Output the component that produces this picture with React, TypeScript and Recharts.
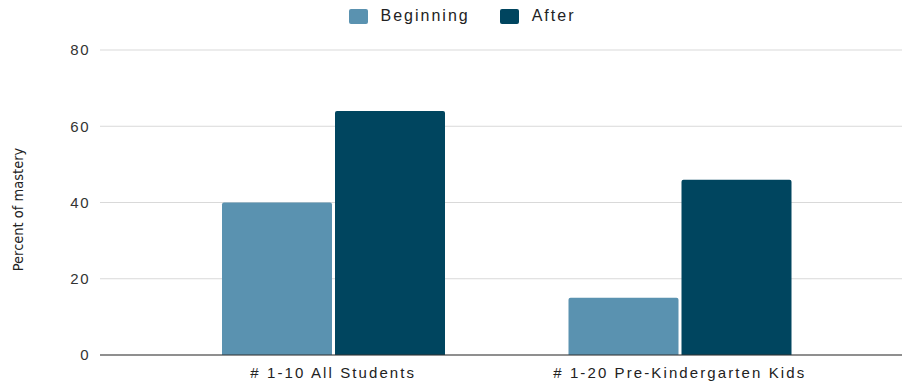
import { BarChart, Bar, XAxis, YAxis, CartesianGrid, Legend } from 'recharts'

const categories = ['# 1-10 All Students', '# 1-20 Pre-Kindergarten Kids']
const beginning = [40, 15]
const after = [64, 46]
const yTicks = [0, 20, 40, 60, 80]

const seriesColors = { beginning: '#5a92b0', after: '#00455f' }

const data = categories.map((name, i) => ({ name, beginning: beginning[i], after: after[i] }))

const font = "'Liberation Sans', Arial, sans-serif"

const LegendContent = () => (
  <div style={{ display: 'flex', justifyContent: 'center', gap: 30, fontFamily: font, fontSize: 16, letterSpacing: 2, color: '#222', paddingLeft: 22 }}>
    {[
      { label: 'Beginning', color: seriesColors.beginning },
      { label: 'After', color: seriesColors.after },
    ].map(item => (
      <div key={item.label} style={{ display: 'flex', alignItems: 'center', gap: 13 }}>
        <span style={{ width: 19, height: 15, background: item.color, borderRadius: 2, display: 'inline-block' }} />
        <span>{item.label}</span>
      </div>
    ))}
  </div>
)

export default function App() {
  return (
    <div style={{ position: 'absolute', left: 0, top: 0, width: 902, height: 383, background: '#fff' }}>
      <BarChart
        width={902}
        height={383}
        data={data}
        margin={{ top: 32, right: 0, left: 0, bottom: 0 }}
        barGap={3}
        barCategoryGap={62}
      >
        <CartesianGrid vertical={false} stroke="#d9d9d9" strokeWidth={1} />
        <Legend
          content={<LegendContent />}
          verticalAlign="top"
          wrapperStyle={{ position: 'absolute', top: 7, left: 0, width: 902 }}
        />
        <XAxis
          dataKey="name"
          padding={{ left: 60, right: 49 }}
          tickLine={false}
          axisLine={{ stroke: '#333', strokeWidth: 1 }}
          tick={{ fill: '#222', fontSize: 15, fontFamily: font, letterSpacing: 2.1 }}
          height={28}
          tickMargin={6}
        />
        <YAxis
          domain={[0, 80]}
          ticks={yTicks}
          width={100}
          axisLine={false}
          tickLine={false}
          tickSize={0}
          tickMargin={10}
          tick={{ fill: '#333', fontSize: 15, fontFamily: font, letterSpacing: 1.5 }}
          label={{
            value: 'Percent of mastery',
            angle: -90,
            position: 'center',
            dx: -32,
            dy: 7,
            style: { fill: '#222', fontSize: 14.5, fontFamily: "'Liberation Sans Narrow', 'DejaVu Sans Condensed', sans-serif", textAnchor: 'middle' },
          }}
        />
        <Bar dataKey="beginning" name="Beginning" fill={seriesColors.beginning} radius={[2, 2, 0, 0]} isAnimationActive={false} />
        <Bar dataKey="after" name="After" fill={seriesColors.after} radius={[2, 2, 0, 0]} isAnimationActive={false} />
      </BarChart>
    </div>
  )
}
